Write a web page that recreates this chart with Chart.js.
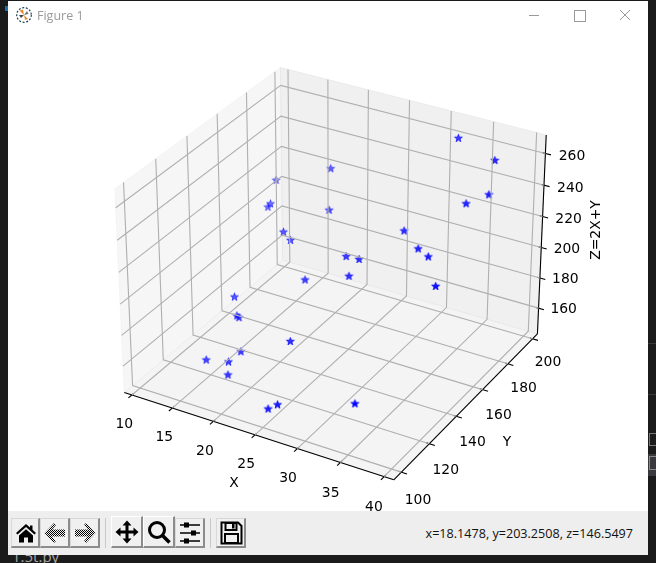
<!DOCTYPE html>
<html>
<head>
<meta charset="utf-8">
<title>Figure 1</title>
<script src="https://cdn.jsdelivr.net/npm/chart.js@4/dist/chart.umd.js"></script>
<style>
  html, body { margin: 0; height: 100%; overflow: hidden; background: #1b1b1b; }
  div, canvas, svg, span { position: absolute; }
  #behind { left: 12px; top: 546px; font: 15px "Open Sans", sans-serif; color: #a8a8a8; }
  #win { left: 8px; top: 1px; width: 640px; height: 554px; background: #fff; }
  #chart { left: 0; top: 0; }
  #title { left: 37px; top: 7px; font: 12.5px "Open Sans", sans-serif; color: #9a9a9a; }
  #bar { left: 8px; top: 511px; width: 640px; height: 44px; background: #eeeeee; }
  .btn { box-sizing: border-box; background: #f0f0f0; border: 1px solid #d8d8d8; border-right: 2px solid #8c8c8c; border-bottom: 2px solid #8c8c8c; }
  .up { border-top: 1px solid #fff; border-left: 1px solid #fff; }
  .sep { top: 7px; width: 1px; height: 30px; background: #c8c8c8; }
  #coords { right: 15px; top: 14px; font: 12.6px "Open Sans", sans-serif; color: #111; white-space: nowrap; }
</style>
</head>
<body>
<span id="behind">1.5t.py</span>
<div style="left:5px;top:6px;width:3px;height:5px;background:#1f6fa8"></div>
<div style="left:648px;top:343px;width:8px;height:1px;background:#3a3a3a"></div>
<div style="left:648px;top:394px;width:8px;height:1px;background:#3a3a3a"></div>
<div style="left:649px;top:433px;width:7px;height:13px;border:1px solid #777;border-right:0;box-sizing:border-box"></div>
<div style="left:648px;top:454px;width:8px;height:22px;background:#3a3a3e"></div>
<div style="left:649px;top:456px;width:7px;height:14px;border:1px solid #888;border-right:0;box-sizing:border-box"></div>
<div id="win"></div>

<canvas id="chart" width="656" height="563"></canvas>

<!-- title bar -->
<svg style="left:15px;top:6px" width="18" height="18" viewBox="0 0 18 18">
  <circle cx="9" cy="9" r="7.3" fill="#fff" stroke="#1d3f58" stroke-width="1.2" stroke-dasharray="2 1.6"/>
  <path d="M9 9L4.5 4.5L8 3.5Z" fill="#e8892b"/>
  <path d="M9 9L13 13L10 14Z" fill="#e8892b"/>
  <path d="M9 9L6 12L4 9Z" fill="#444"/>
  <path d="M9 9L12 5L13.5 8Z" fill="#777"/>
</svg>
<span id="title">Figure 1</span>
<div style="left:529px;top:15px;width:10px;height:1px;background:#999"></div>
<div style="left:574px;top:10px;width:10px;height:10px;border:1px solid #999;box-sizing:content-box"></div>
<svg style="left:619px;top:9px" width="12" height="12"><path d="M1 1L11 11M11 1L1 11" stroke="#999" stroke-width="1"/></svg>

<!-- toolbar -->
<div id="bar">
  <div class="btn" style="left:3px;top:7px;width:29px;height:30px"></div>
  <div class="btn" style="left:32px;top:7px;width:30px;height:30px"></div>
  <div class="btn" style="left:62px;top:7px;width:30px;height:30px"></div>
  <div class="sep" style="left:97px"></div>
  <div class="btn up" style="left:103px;top:5px;width:32px;height:32px"></div>
  <div class="btn up" style="left:135px;top:5px;width:32px;height:32px"></div>
  <div class="btn" style="left:167px;top:7px;width:30px;height:30px"></div>
  <div class="sep" style="left:202px"></div>
  <div class="btn" style="left:208px;top:7px;width:30px;height:30px"></div>

  <svg style="left:6px;top:10px" width="24" height="24" viewBox="0 0 24 24">
    <path d="M12 3L2 12L3.500 13.500L12 6L20.500 13.500L22 12L18.500 8.800V4.500H16V6.500Z" fill="#000"/>
    <path d="M5 14.500L12 8.200L19 14.500V21.500H14V16.500H10V21.500H5Z" fill="#000"/>
  </svg>
  <svg style="left:35px;top:10px" width="24" height="24" viewBox="0 0 24 24">
    <defs><pattern id="dith" width="2" height="2" patternUnits="userSpaceOnUse"><rect width="1" height="1" fill="#000"/><rect x="1" y="1" width="1" height="1" fill="#000"/></pattern></defs>
    <path d="M11 2L1.500 12L11 22L13 20L9 15.500H22V8.500H9L13 4Z" fill="url(#dith)"/>
  </svg>
  <svg style="left:65px;top:10px" width="24" height="24" viewBox="0 0 24 24">
    <path d="M13 2L22.500 12L13 22L11 20L15 15.500H2V8.500H15L11 4Z" fill="url(#dith)"/>
  </svg>
  <svg style="left:107px;top:9px" width="24" height="24" viewBox="0 0 24 24">
    <path d="M12 0.500L16.500 5.500H13.500V10.500H18.500V7.500L23.500 12L18.500 16.500V13.500H13.500V18.500H16.500L12 23.500L7.500 18.500H10.500V13.500H5.500V16.500L0.500 12L5.500 7.500V10.500H10.500V5.500H7.500Z" fill="#000"/>
  </svg>
  <svg style="left:139px;top:9px" width="24" height="24" viewBox="0 0 24 24">
    <circle cx="10" cy="10" r="7.500" fill="none" stroke="#000" stroke-width="3"/>
    <path d="M15.500 15.500L22.500 22.500" stroke="#000" stroke-width="3.600"/>
  </svg>
  <svg style="left:170px;top:10px" width="24" height="24" viewBox="0 0 24 24">
    <path d="M2 4H22M2 12H22M2 20H22" stroke="#000" stroke-width="1.400"/>
    <rect x="6" y="1.500" width="5" height="5" fill="#000"/><rect x="13" y="9.500" width="5" height="5" fill="#000"/><rect x="6" y="17.500" width="5" height="5" fill="#000"/>
  </svg>
  <svg style="left:211px;top:10px" width="24" height="24" viewBox="0 0 24 24">
    <path d="M2.500 1.500H19L22.500 5V22.500H2.500Z" fill="none" stroke="#000" stroke-width="2"/>
    <rect x="6.500" y="2" width="11" height="7" fill="none" stroke="#000" stroke-width="2"/>
    <rect x="13" y="3" width="2.500" height="4.500" fill="#000"/>
    <rect x="6" y="13" width="13" height="9" fill="none" stroke="#000" stroke-width="2"/>
  </svg>
  <span id="coords">x=18.1478, y=203.2508, z=146.5497</span>
</div>

<script>
// ================= DATA =================
const xValues = [31.9, 37.7, 39.0, 36.8, 30.9, 33.7, 35.4, 25.3, 27.1, 26.9, 17.5, 20.1, 38.0, 35.3, 11.0,
                 11.9, 11.8, 15.6, 17.1, 21.6, 13.6, 15.2, 15.6, 23.7, 18.1, 14.2, 17.2, 18.0, 26.1, 25.2];
const yValues = [197.5, 187.3, 174.5, 172.0, 164.0, 156.8, 153.5, 156.3, 154.8, 148.8, 191.3, 174.8, 142.5, 102.8, 189.0,
                 179.8, 178.5, 168.0, 164.5, 148.8, 144.5, 137.3, 136.5, 126.3, 123.8, 121.5, 120.3, 115.5, 103.8, 102.5];
const zValues = [261.3, 262.7, 252.5, 245.6, 225.8, 224.2, 224.3, 206.9, 209.0, 202.6, 226.2, 215.0, 218.5, 173.4, 211.0,
                 203.5, 202.1, 199.2, 198.7, 192.0, 171.7, 167.6, 167.7, 173.7, 159.9, 149.9, 154.6, 151.5, 156.0, 152.9];

const xTicks = [10, 15, 20, 25, 30, 35, 40];
const yTicks = [100, 120, 140, 160, 180, 200];
const zTicks = [160, 180, 200, 220, 240, 260];

const xLim = [9.05, 41.1];
const yLim = [94.7, 204];
const zLim = [142.7, 271.5];

// ================= 3D PROJECTION (elev 30, azim -60) =================
const BOX = [1.14288, 1.14288, 0.8629];
const DIST = 10;
const N = [0.43301, -0.75, 0.5];
const A = [0.86603, 0.5, 0];
const B = [-0.25, 0.43301, 0.86603];

const dot = (p, q) => p[0] * q[0] + p[1] * q[1] + p[2] * q[2];

function view(x, y, z) {
  const p = [
    ((x - xLim[0]) / (xLim[1] - xLim[0]) - 0.5) * BOX[0],
    ((y - yLim[0]) / (yLim[1] - yLim[0]) - 0.5) * BOX[1],
    ((z - zLim[0]) / (zLim[1] - zLim[0]) - 0.5) * BOX[2]
  ];
  const depth = DIST - dot(N, p);
  return { x: dot(A, p) / depth, y: dot(B, p) / depth, depth };
}

function segment(points, color) {
  return {
    type: "scatter",
    data: points.map(p => view(p[0], p[1], p[2])),
    showLine: true,
    borderColor: color,
    borderWidth: 1.11,
    pointRadius: 0,
    fill: false,
    tension: 0
  };
}

// ================= GRID, AXES =================
const [x0, x1] = xLim, [y0, y1] = yLim, [z0, z1] = zLim;
const GRID = "#b0b0b0";
const datasets = [];

xTicks.forEach(v => datasets.push(segment([[v, y0, z0], [v, y1, z0], [v, y1, z1]], GRID)));
yTicks.forEach(v => datasets.push(segment([[x0, v, z1], [x0, v, z0], [x1, v, z0]], GRID)));
zTicks.forEach(v => datasets.push(segment([[x0, y0, v], [x0, y1, v], [x1, y1, v]], GRID)));

datasets.push(segment([[x0, y0, z0], [x1, y0, z0]], "#000"));
datasets.push(segment([[x1, y0, z0], [x1, y1, z0]], "#000"));
datasets.push(segment([[x1, y1, z0], [x1, y1, z1]], "#000"));

const dx = x1 - x0, dy = y1 - y0;
xTicks.forEach(v => datasets.push(segment([[v, y0 - 0.02 * dy, z0], [v, y0 + 0.01 * dy, z0]], "#000")));
yTicks.forEach(v => datasets.push(segment([[x1 + 0.02 * dx, v, z0], [x1 - 0.01 * dx, v, z0]], "#000")));
zTicks.forEach(v => datasets.push(segment([[x1 + 0.02 * dx, y1, v], [x1 - 0.01 * dx, y1, v]], "#000")));

// ================= SCATTER =================
const starCache = {};

function starImage(alpha) {
  const key = alpha.toFixed(2);
  if (starCache[key]) return starCache[key];
  const c = document.createElement("canvas");
  c.width = c.height = 13;
  const g = c.getContext("2d");
  g.beginPath();
  for (let i = 0; i < 10; i++) {
    const r = i % 2 ? 1.6 : 4.1;
    const a = -Math.PI / 2 + i * Math.PI / 5;
    g.lineTo(6.5 + r * Math.cos(a), 6.5 + r * Math.sin(a));
  }
  g.closePath();
  g.fillStyle = `rgba(0,0,255,${alpha})`;
  g.strokeStyle = `rgba(0,0,255,${alpha})`;
  g.lineWidth = 1;
  g.fill();
  g.stroke();
  starCache[key] = c;
  return c;
}

const points = xValues.map((x, i) => view(x, yValues[i], zValues[i]));
const nearest = Math.min(...points.map(p => p.depth));
const farthest = Math.max(...points.map(p => p.depth));

datasets.push({
  type: "scatter",
  data: points,
  showLine: false,
  pointRadius: 6,
  pointStyle: ctx => starImage(1 - 0.5 * (points[ctx.dataIndex].depth - nearest) / (farthest - nearest))
});

// ================= PANES AND TEXT =================
const panes = [
  { color: "rgba(238,238,238,0.5)", corners: [[x0, y0, z0], [x0, y1, z0], [x0, y1, z1], [x0, y0, z1]] },
  { color: "rgba(226,226,226,0.5)", corners: [[x0, y1, z0], [x1, y1, z0], [x1, y1, z1], [x0, y1, z1]] },
  { color: "rgba(233,233,233,0.5)", corners: [[x0, y0, z0], [x1, y0, z0], [x1, y1, z0], [x0, y1, z0]] }
];

const panePlugin = {
  id: "panes",
  beforeDatasetsDraw(chart) {
    const { ctx, scales } = chart;
    panes.forEach(pane => {
      ctx.beginPath();
      pane.corners.forEach(c => {
        const p = view(c[0], c[1], c[2]);
        ctx.lineTo(scales.x.getPixelForValue(p.x), scales.y.getPixelForValue(p.y));
      });
      ctx.closePath();
      ctx.fillStyle = pane.color;
      ctx.fill();
      ctx.strokeStyle = pane.color;
      ctx.lineWidth = 1;
      ctx.stroke();
    });
  }
};

const textPlugin = {
  id: "axisText",
  afterDatasetsDraw(chart) {
    const { ctx, scales } = chart;
    ctx.save();
    ctx.font = '13.9px "DejaVu Sans"';
    ctx.fillStyle = "#000";
    ctx.textAlign = "center";
    ctx.textBaseline = "middle";

    function tickLabels(ticks, at, from, to) {
      ticks.forEach((v, i) => {
        const t = i / (ticks.length - 1);
        const p = at(v);
        ctx.fillText(String(v),
          scales.x.getPixelForValue(p.x) + from[0] + (to[0] - from[0]) * t,
          scales.y.getPixelForValue(p.y) + from[1] + (to[1] - from[1]) * t);
      });
    }

    tickLabels(xTicks, v => view(v, y0, z0), [-7.6, 29.1], [-10.1, 30.7]);
    tickLabels(yTicks, v => view(x1, v, z0), [16.7, 27.9], [15.4, 23.5]);
    tickLabels(zTicks, v => view(x1, y1, v), [25.1, 1.5], [26.6, 3.2]);

    ctx.fillText("X", 234, 483);
    ctx.fillText("Y", 507, 442);
    ctx.translate(596, 230);
    ctx.rotate(-Math.PI / 2);
    ctx.fillText("Z=2X+Y", 0, 0);
    ctx.restore();
  }
};

// ================= CHART =================
new Chart(document.getElementById("chart").getContext("2d"), {
  data: { datasets },
  plugins: [panePlugin, textPlugin],
  options: {
    responsive: false,
    animation: false,
    events: [],
    layout: { padding: 0, autoPadding: false },
    plugins: { legend: { display: false }, tooltip: { enabled: false } },
    scales: {
      x: { type: "linear", display: false, min: -0.123775, max: 0.118953 },
      y: { type: "linear", display: false, min: -0.110976, max: 0.098125 }
    }
  }
});
</script>
</body>
</html>
